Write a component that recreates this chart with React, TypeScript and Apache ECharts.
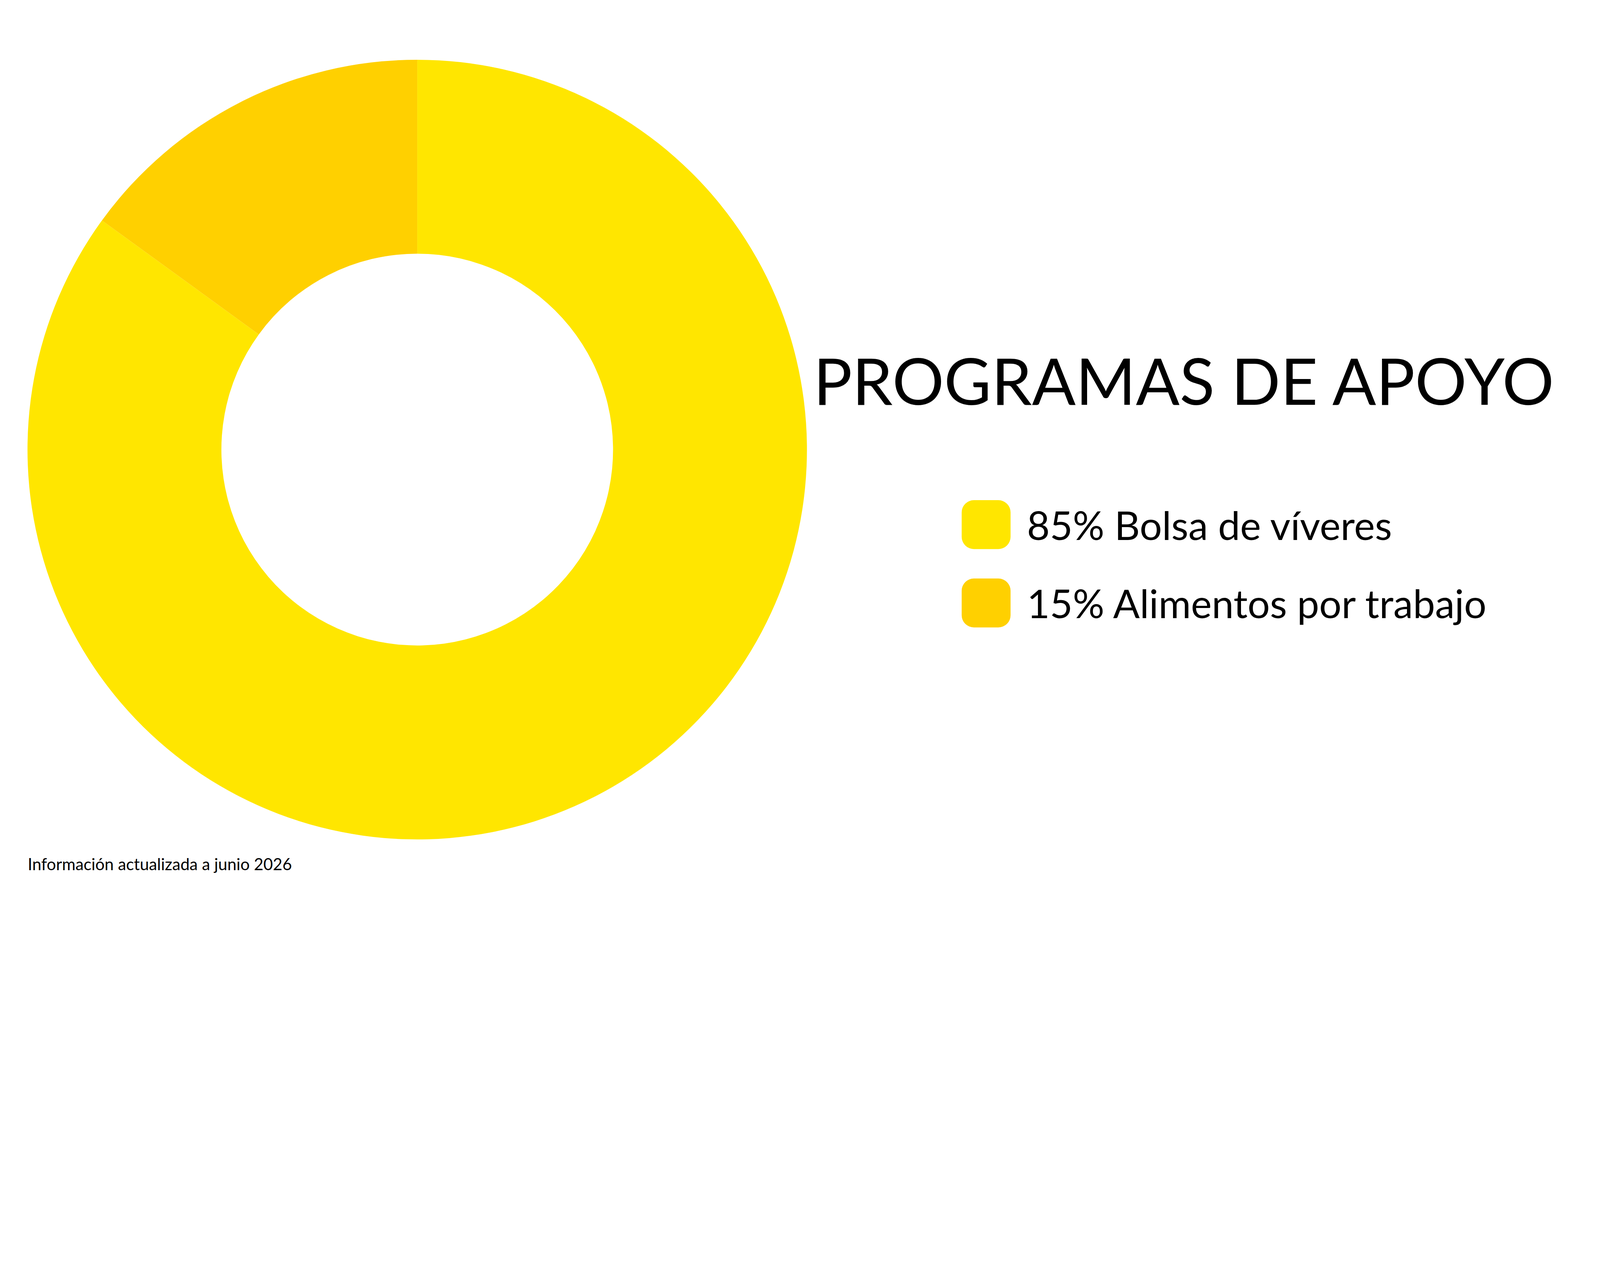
import React, { useEffect, useRef, useState } from "react";
import * as echarts from "echarts";

const categories = ["Bolsa de víveres", "Alimentos por trabajo"];
const values = [85, 15];
const colors = ["#FFE600", "#FFD000"];
const titleText = "PROGRAMAS DE APOYO";
const footnote = "Información actualizada a junio 2026";

const FONT = "Lato";
const REF_W = 5760;
const REF_H = 3240;

export default function App() {
  const ref = useRef<HTMLDivElement>(null);
  const [s] = useState(() =>
    Math.min(window.innerWidth / REF_W, window.innerHeight / REF_H)
  );
  useEffect(() => {
    document.body.style.margin = "0";
    const chart = echarts.init(ref.current!, null, { renderer: "svg" });
    const k = (v: number) => v * s;
    chart.setOption({
      animation: false,
      backgroundColor: "#ffffff",
      color: colors,
      legend: {
        orient: "vertical",
        left: k(3455),
        top: k(1793),
        itemWidth: k(176),
        itemHeight: k(176),
        itemGap: k(106),
        icon: "roundRect",
        selectedMode: false,
        data: categories,
        formatter: (name: string) => {
          const i = categories.indexOf(name);
          return `${values[i]}% ${name}`;
        },
        textStyle: {
          fontFamily: FONT,
          fontSize: k(142),
          color: "#000000",
          padding: [0, 0, k(40), k(52)],
        },
      },
      graphic: [
        {
          type: "text",
          left: k(2928),
          top: k(1250),
          style: {
            text: titleText,
            fontFamily: FONT,
            fontSize: k(233),
            fill: "#000000",
          },
        },
        {
          type: "text",
          left: k(100),
          top: k(3080),
          style: {
            text: footnote,
            fontFamily: FONT,
            fontSize: k(59),
            fill: "#000000",
          },
        },
      ],
      series: [
        {
          type: "pie",
          center: [k(1502), k(1618)],
          radius: [k(705), k(1403)],
          startAngle: 90,
          clockwise: true,
          silent: true,
          label: { show: false },
          labelLine: { show: false },
          itemStyle: { borderWidth: 0 },
          emphasis: { disabled: true },
          data: categories.map((c, i) => ({ name: c, value: values[i] })),
        },
      ],
    });
    return () => chart.dispose();
  }, [s]);
  return (
    <div
      ref={ref}
      style={{ width: Math.round(REF_W * s), height: Math.round(REF_H * s) }}
    />
  );
}
